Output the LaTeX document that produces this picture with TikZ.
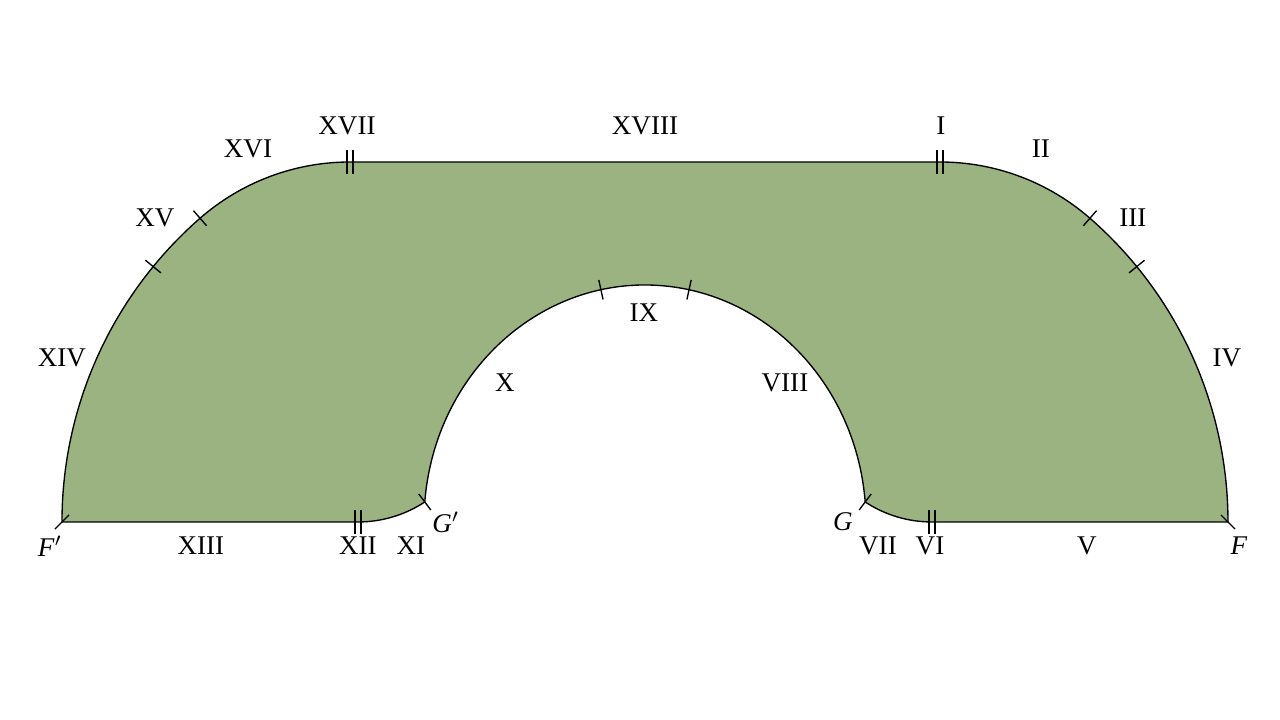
\documentclass[tikz,border=0pt]{standalone}
\usepackage{fontspec}
\setmainfont{Liberation Serif}

\definecolor{archgreen}{RGB}{154,179,128}
\tikzset{
  hatch/.pic={\draw (0,-0.13) -- (0,0.13);},
  dhatch/.pic={\draw (-0.04,-0.15) -- (-0.04,0.15) (0.04,-0.15) -- (0.04,0.15);},
  lab/.style={inner sep=1pt}
}

\begin{document}
\begin{tikzpicture}[scale=1.3,line width=0.5pt]
  \useasboundingbox (-6.45,-1.98) rectangle (6.35,5.22);

  % the band of the arch
  \filldraw[fill=archgreen,draw=black]
    (-5.83,0) -- (-2.87,0)
    arc[start angle=-90,end angle=-56.67,radius=1.2157]
    arc[start angle=175.16,end angle=4.84,x radius=2.21,y radius=2.37]
    arc[start angle=-123.33,end angle=-90,radius=1.2157]
    -- (5.83,0)
    arc[start angle=0,end angle=48.89,radius=4.032]
    arc[start angle=48.89,end angle=90,radius=2.28]
    -- (-2.95,3.60)
    arc[start angle=90,end angle=131.11,radius=2.28]
    arc[start angle=131.11,end angle=180,radius=4.032]
    -- cycle;

  % marks on the outline
  \pic[rotate=45] at (5.83,0) {hatch};
  \pic[rotate=-45] at (-5.83,0) {hatch};
  \pic[rotate=-37] at (2.202,0.2) {hatch};
  \pic[rotate=37] at (-2.202,0.2) {hatch};
  \pic at (2.87,0) {dhatch};
  \pic at (-2.87,0) {dhatch};
  \pic at (2.95,3.60) {dhatch};
  \pic at (-2.95,3.60) {dhatch};
  \pic[rotate=-41.1] at (4.45,3.038) {hatch};
  \pic[rotate=-50.7] at (4.918,2.554) {hatch};
  \pic[rotate=41.1] at (-4.45,3.038) {hatch};
  \pic[rotate=50.7] at (-4.918,2.554) {hatch};
  \pic[rotate=12.3] at (-0.4406,2.3224) {hatch};
  \pic[rotate=-12.3] at (0.4406,2.3224) {hatch};

  % labels
  \node[lab] (xviii) at (0,3.96) {XVIII};
  \node[lab] (xvii) at (-2.98,3.96) {XVII};
  \node[lab] (i) at (2.96,3.96) {I};
  \node[lab] (xvi) at (-3.97,3.73) {XVI};
  \node[lab] (ii) at (3.96,3.73) {II};
  \node[lab] (xv) at (-4.90,3.04) {XV};
  \node[lab] (iii) at (4.88,3.04) {III};
  \node[lab] (xiv) at (-5.83,1.64) {XIV};
  \node[lab] (iv) at (5.82,1.64) {IV};
  \node[lab] (ix) at (-0.01,2.09) {IX};
  \node[lab] (x) at (-1.40,1.39) {X};
  \node[lab] (viii) at (1.40,1.39) {VIII};
  \node[lab] (fp) at (-5.95,-0.24) {\textit{F}$'$};
  \node[lab] (f) at (5.94,-0.24) {\textit{F}};
  \node[lab] (xiii) at (-4.44,-0.24) {XIII};
  \node[lab] (v) at (4.42,-0.24) {V};
  \node[lab] (xii) at (-2.87,-0.24) {XII};
  \node[lab] (vi) at (2.85,-0.24) {VI};
  \node[lab] (xi) at (-2.34,-0.24) {XI};
  \node[lab] (vii) at (2.33,-0.24) {VII};
  \node[lab] (gp) at (-1.99,0.0) {\textit{G}$'$};
  \node[lab] (g) at (1.98,0.0) {\textit{G}};
\end{tikzpicture}
\end{document}
